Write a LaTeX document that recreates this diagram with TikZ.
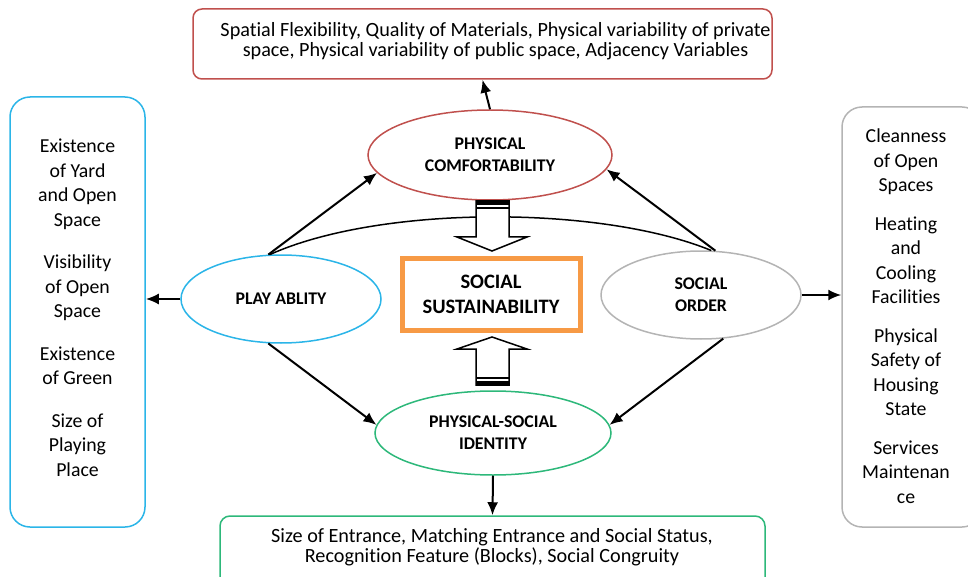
\documentclass[tikz,border=0pt]{standalone}
\usepackage{fontspec}
\setmainfont[Ligatures=NoCommon]{Carlito}
\usetikzlibrary{shapes.geometric,arrows.meta}
\definecolor{cred}{HTML}{C0504D}
\definecolor{cblue}{HTML}{2BB5E8}
\definecolor{cgray}{HTML}{B4B4B4}
\definecolor{cgreen}{HTML}{2DB87A}
\definecolor{corange}{HTML}{F79A45}
\tikzset{
  x=1pt,y=-1pt,
  oval/.style={ellipse,draw,line width=1.5pt,inner sep=0pt,font=\fontsize{17.8}{22}\selectfont\bfseries,align=center,fill=white},
  rbox/.style={draw,line width=1.5pt,rectangle,inner sep=0pt},
  conn/.style={line width=2pt,-{Latex[length=13pt,width=11pt]}},
  smalltxt/.style={font=\fontsize{20.2}{20}\selectfont,align=center,inner sep=0pt},
  sidetxt/.style={font=\fontsize{19.8}{24.5}\selectfont,align=center,inner sep=0pt},
  blockarr/.style={draw,line width=1.5pt,fill=white,line join=miter},
}
\begin{document}
\begin{tikzpicture}
\useasboundingbox (0,0) rectangle (968,577);
% boxes
\node[rbox,draw=cred,rounded corners=9pt,minimum width=579pt,minimum height=70pt] (topbox) at (482.5,44) {};
\node[smalltxt] (toptxt) at (495.5,41) {Spatial Flexibility, Quality of Materials, Physical variability of private\\space, Physical variability of public space, Adjacency Variables};
\node[rbox,draw=cgreen,rounded corners=10pt,minimum width=545pt,minimum height=80pt] (botbox) at (492.5,556) {};
\node[smalltxt] (bottxt) at (492,547.5) {Size of Entrance, Matching Entrance and Social Status,\\Recognition Feature (Blocks), Social Congruity};
\node[rbox,draw=cblue,rounded corners=20pt,minimum width=135pt,minimum height=430pt] (leftbox) at (77.5,312) {};
\node[sidetxt,anchor=north] (lefttxt) at (77.5,139) {Existence\\of Yard\\and Open\\Space\\[18pt]Visibility\\of Open\\Space\\[18pt]Existence\\of Green\\[18pt]Size of\\Playing\\Place};
\node[rbox,draw=cgray,rounded corners=20pt,minimum width=140pt,minimum height=420pt] (rightbox) at (912,317) {};
\node[sidetxt,anchor=north] (righttxt) at (906,129) {Cleanness\\of Open\\Spaces\\[14pt]Heating\\and\\Cooling\\Facilities\\[14pt]Physical\\Safety of\\Housing\\State\\[14pt]Services\\Maintenan\\ce};
% arc
\node[oval,draw=cblue,minimum width=200pt,minimum height=88pt] (play) at (281,299) {PLAY ABLITY};
\node[oval,draw=cgray,minimum width=200pt,minimum height=88pt] (so) at (701,295) {SOCIAL\\ORDER};
\draw[line width=1.5pt] (play.104) .. controls (380,205) and (600,205) .. (so.77);
\node[oval,draw=cred,minimum width=244pt,minimum height=90pt] (pc) at (490,155) {PHYSICAL\\COMFORTABILITY};
\node[oval,draw=cgreen,minimum width=236pt,minimum height=84pt] (psi) at (493,433) {PHYSICAL-SOCIAL\\IDENTITY};
\node[draw=corange,line width=5pt,minimum width=178pt,minimum height=72pt,inner sep=0pt,font=\fontsize{20.5}{25}\selectfont\bfseries,align=center] (ss) at (491,294.5) {SOCIAL\\SUSTAINABILITY};
% block arrows
\draw[blockarr] (476,201) -- (509,201) -- (509,237) -- (527,237) -- (492,251) -- (457,237) -- (476,237) -- cycle;
\fill (476,200) rectangle (509,205);
\fill (476,207.5) rectangle (509,209.5);
\draw[blockarr] (476,385) -- (509,385) -- (509,349) -- (527,349) -- (492,337) -- (457,349) -- (476,349) -- cycle;
\fill (476,381) rectangle (509,386);
\fill (476,376.5) rectangle (509,378.5);
% connectors
\draw[conn] (pc.north) -- (topbox.south);
\draw[conn] (psi.south) -- (botbox.north);
\draw[conn] (play.west) -- (leftbox.east |- play.west);
\draw[conn] (so.east) -- (rightbox.west |- so.east);
\draw[conn] (play.106) -- (pc.189);
\draw[conn] (play.254) -- (psi.176);
\draw[conn] (so.72) -- (pc.-7);
\draw[conn] (so.-63) -- (psi.4);
\end{tikzpicture}
\end{document}
